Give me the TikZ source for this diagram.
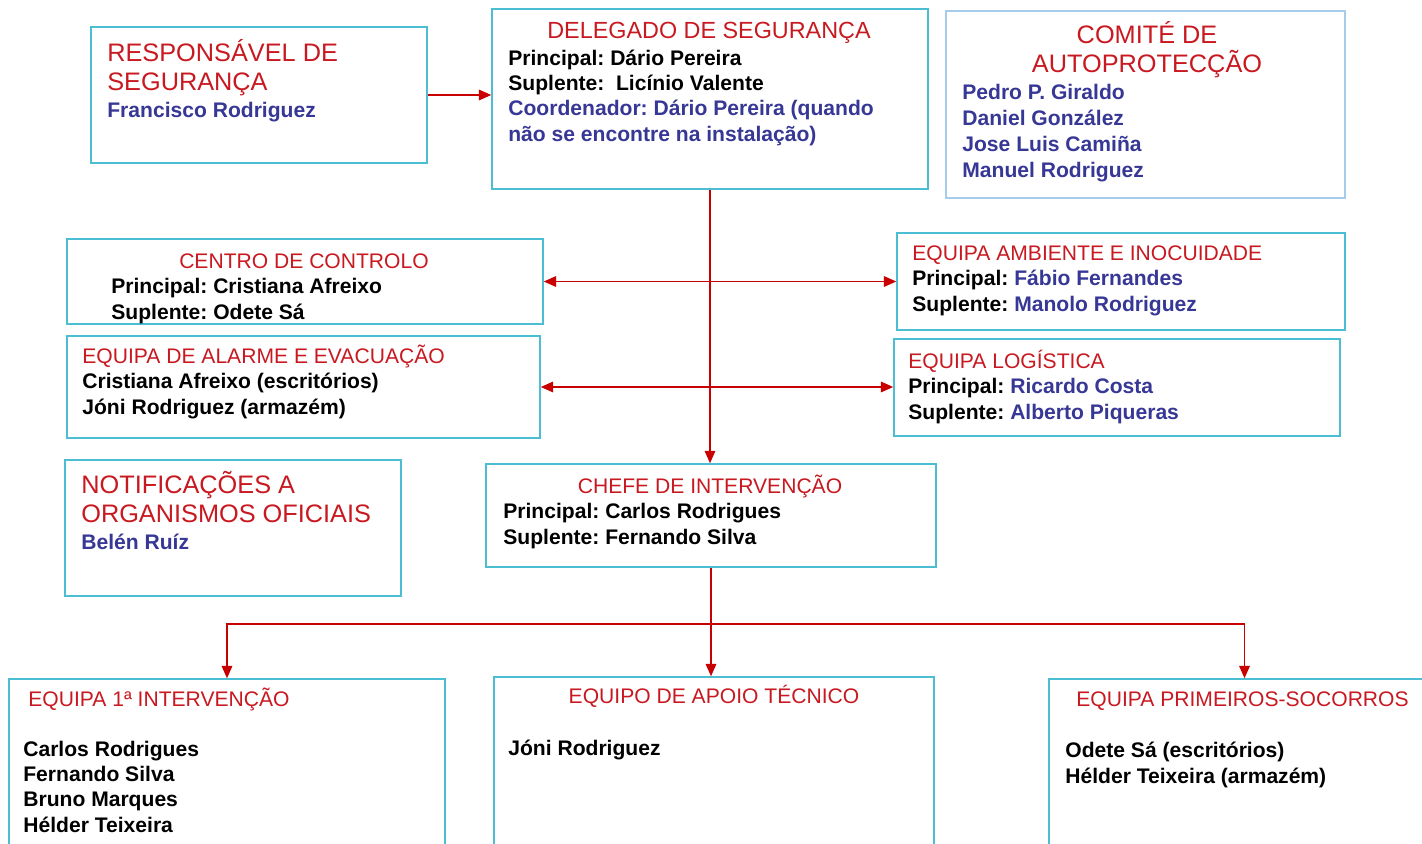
\documentclass[tikz,border=0pt]{standalone}
\usepackage{fontspec}
\setmainfont{Liberation Sans}
\usetikzlibrary{arrows.meta}
\definecolor{boxcyan}{RGB}{75,190,212}
\definecolor{boxsky}{RGB}{165,205,235}
\definecolor{ttlred}{RGB}{200,24,32}
\definecolor{nmblue}{RGB}{55,55,150}
\definecolor{arrred}{RGB}{200,0,0}
\frenchspacing

\begin{document}
\begin{tikzpicture}[x=0.02cm, y=-0.02cm,
  >={Triangle[length=7pt, width=6pt]},
  box/.style={draw=boxcyan, line width=0.9pt, inner sep=0pt},
  ttl/.style={text=ttlred, font=\fontsize{12}{14.2}\selectfont, inner sep=0pt},
  bigttl/.style={text=ttlred, font=\fontsize{14.4}{16.5}\selectfont, align=left, inner sep=0pt},
  nm/.style={font=\fontsize{12}{14.4}\selectfont\bfseries, align=left, inner sep=0pt},
  arr/.style={->, draw=arrred, line width=0.8pt},
  both/.style={<->, draw=arrred, line width=0.8pt}
]
\clip (0,0) rectangle (1422,843);

\node[box, minimum width=6.72cm, minimum height=2.72cm] (resp) at (259,95) {};
\node[box, minimum width=8.72cm, minimum height=3.6cm] (deleg) at (710,99) {};
\node[box, draw=boxsky, line width=0.7pt, minimum width=7.98cm, minimum height=3.74cm] (comite) at (1145.5,104.5) {};
\node[box, minimum width=9.52cm, minimum height=1.7cm] (centro) at (305,281.5) {};
\node[box, minimum width=8.96cm, minimum height=1.94cm] (amb) at (1121,281.5) {};
\node[box, minimum width=9.46cm, minimum height=2.04cm] (alarme) at (303.5,387) {};
\node[box, minimum width=8.92cm, minimum height=1.94cm] (log) at (1117,387.5) {};
\node[box, minimum width=6.72cm, minimum height=2.72cm] (notif) at (233,528) {};
\node[box, minimum width=9cm, minimum height=2.06cm] (chefe) at (711,515.5) {};
\node[box, minimum width=8.72cm, minimum height=3.62cm] (eq1) at (227,769.5) {};
\node[box, minimum width=8.8cm, minimum height=3.66cm] (apoio) at (714,768.5) {};
\node[box, minimum width=7.82cm, minimum height=3.62cm] (soc) at (1244.5,769.5) {};

\node[bigttl, anchor=base west] (resp-t) at (107,90) {RESPONSÁVEL DE\\SEGURANÇA};
\node[nm, text=nmblue, anchor=base west] (resp-n) at (107,117) {Francisco Rodriguez};

\node[ttl, font=\fontsize{13.3}{16}\selectfont, anchor=base] (deleg-t) at (709,38) {DELEGADO DE SEGURANÇA};
\node[nm, anchor=base west] (deleg-n) at (508,141) {Principal: Dário Pereira\\Suplente:\ \ Licínio Valente\\
\textcolor{nmblue}{Coordenador: Dário Pereira (quando}\\\textcolor{nmblue}{não se encontre na instalação)}};

\node[bigttl, align=center, anchor=base] (comite-t) at (1147,72) {COMITÉ DE\\AUTOPROTECÇÃO};
\node[nm, text=nmblue, font=\fontsize{12}{14.8}\selectfont\bfseries, anchor=base west] (comite-n) at (962,177)
  {Pedro P. Giraldo\\Daniel González\\Jose Luis Camiña\\Manuel Rodriguez};

\node[ttl, anchor=base] (centro-t) at (304,268) {CENTRO DE CONTROLO};
\node[nm, anchor=base west] (centro-n) at (111,319) {Principal: Cristiana Afreixo\\Suplente: Odete Sá};

\node[ttl, anchor=base west] (amb-t) at (912,260) {EQUIPA AMBIENTE E INOCUIDADE};
\node[nm, anchor=base west] (amb-n) at (912,311) {Principal: \textcolor{nmblue}{Fábio Fernandes}\\Suplente: \textcolor{nmblue}{Manolo Rodriguez}};

\node[ttl, anchor=base west] (alarme-t) at (82,363) {EQUIPA DE ALARME E EVACUAÇÃO};
\node[nm, anchor=base west] (alarme-n) at (82,414) {Cristiana Afreixo (escritórios)\\Jóni Rodriguez (armazém)};

\node[ttl, anchor=base west] (log-t) at (908,368) {EQUIPA LOGÍSTICA};
\node[nm, anchor=base west] (log-n) at (908,419) {Principal: \textcolor{nmblue}{Ricardo Costa}\\Suplente: \textcolor{nmblue}{Alberto Piqueras}};

\node[bigttl, anchor=base west] (notif-t) at (81,522) {NOTIFICAÇÕES A\\ORGANISMOS OFICIAIS};
\node[nm, text=nmblue, anchor=base west] (notif-n) at (81,549) {Belén Ruíz};

\node[ttl, anchor=base] (chefe-t) at (710,493) {CHEFE DE INTERVENÇÃO};
\node[nm, anchor=base west] (chefe-n) at (503,544) {Principal: Carlos Rodrigues\\Suplente: Fernando Silva};

\node[ttl, anchor=base west] (eq1-t) at (28,706) {EQUIPA 1ª INTERVENÇÃO};
\node[nm, anchor=base west] (eq1-n) at (23,832) {Carlos Rodrigues\\Fernando Silva\\Bruno Marques\\Hélder Teixeira};

\node[ttl, anchor=base] (apoio-t) at (714,703) {EQUIPO DE APOIO TÉCNICO};
\node[nm, anchor=base west] (apoio-n) at (508,755) {Jóni Rodriguez};

\node[ttl, anchor=base west] (soc-t) at (1076,706) {EQUIPA PRIMEIROS-SOCORROS};
\node[nm, anchor=base west] (soc-n) at (1065,783) {Odete Sá (escritórios)\\Hélder Teixeira (armazém)};

\draw[arr] (resp) -- (resp -| deleg.west);
\draw[arr] (deleg.south) -- (deleg.south |- chefe.north);
\draw[both] (centro.east) -- (amb.west);
\draw[both] (alarme.east) -- (alarme.east -| log.west);

\coordinate (bus) at (711,624);
\draw[arrred, line width=0.8pt] (chefe.south) -- (bus);
\draw[arr] (bus) -| (eq1.north);
\draw[arr] (bus) -- (bus |- apoio.north);
\draw[arr] (bus) -| (soc.north);
\end{tikzpicture}
\end{document}
